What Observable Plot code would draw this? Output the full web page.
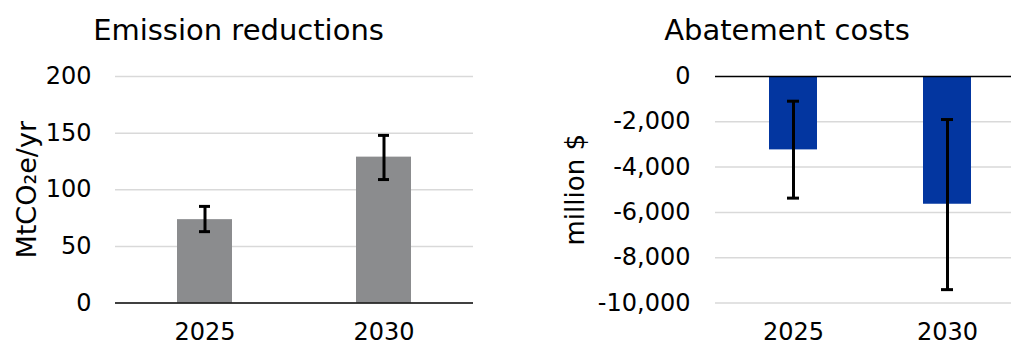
<!DOCTYPE html>
<html><head><meta charset="utf-8">
<script src="https://cdn.jsdelivr.net/npm/d3@7"></script>
<script src="https://cdn.jsdelivr.net/npm/@observablehq/plot@0.6"></script>
<style>
html,body{margin:0;padding:0;background:#fff;}
#wrap{position:relative;width:1011px;height:345px;overflow:hidden;}
#wrap > svg{position:absolute;top:0;}
</style></head><body><div id="wrap"></div>
<script>
const years = ["2025", "2030"];
const emissionValues = [73.6, 128.8];
const emissionLow = [63, 109];
const emissionHigh = [85.3, 148];
const costValues = [-3240, -5640];
const costLow = [-5370, -9410];
const costHigh = [-1090, -1900];
const emissionTicks = [0, 50, 100, 150, 200];
const costTicks = [0, -2000, -4000, -6000, -8000, -10000];
const titles = ["Emission reductions", "Abatement costs"];
const yLabels = ["MtCO\u2082e/yr", "million $"];

const emData = years.map((y, i) => ({year: y, value: emissionValues[i], low: emissionLow[i], high: emissionHigh[i]}));
const costData = years.map((y, i) => ({year: y, value: costValues[i], low: costLow[i], high: costHigh[i]}));

const font = "'DejaVu Sans', Verdana, sans-serif";
const wrap = document.getElementById("wrap");

const left = Plot.plot({
  width: 490, height: 345,
  marginLeft: 115, marginRight: 17, marginTop: 76, marginBottom: 42.5,
  style: {fontFamily: font, fontSize: "24px", color: "#000", background: "transparent", overflow: "visible"},
  x: {domain: years, paddingInner: 0.69, paddingOuter: 0.345, label: null},
  y: {domain: [0, 200], label: null},
  marks: [
    Plot.ruleY(emissionTicks.filter(t => t !== 0), {stroke: "#d9d9d9", strokeWidth: 1.5}),
    Plot.barY(emData, {x: "year", y: "value", fill: "#8b8c8e"}),
    Plot.ruleY([0], {stroke: "#000", strokeWidth: 1.5}),
    Plot.ruleX(emData, {x: "year", y1: "low", y2: "high", stroke: "#000", strokeWidth: 3}),
    Plot.tickY(emData, {x: "year", y: "low", stroke: "#000", strokeWidth: 3, insetLeft: 22, insetRight: 22}),
    Plot.tickY(emData, {x: "year", y: "high", stroke: "#000", strokeWidth: 3, insetLeft: 22, insetRight: 22}),
    Plot.axisY({ticks: emissionTicks, tickSize: 0, tickPadding: 24, label: null}),
    Plot.axisX({tickSize: 0, tickPadding: 20, label: null}),
    Plot.text([titles[0]], {text: d => d, frameAnchor: "top", textAnchor: "middle", lineAnchor: "middle", dx: -56, dy: -45.5, fontSize: 29}),
    Plot.text([yLabels[0]], {text: d => d, frameAnchor: "left", textAnchor: "middle", lineAnchor: "middle", rotate: -90, dx: -88, fontSize: 27})
  ]
});
left.style.left = "0px";
wrap.appendChild(left);

const right = Plot.plot({
  width: 521, height: 345,
  marginLeft: 225, marginRight: 0, marginTop: 76, marginBottom: 42.5,
  style: {fontFamily: font, fontSize: "24px", color: "#000", background: "transparent", overflow: "visible"},
  x: {domain: years, range: [225, 534], paddingInner: 0.69, paddingOuter: 0.345, label: null},
  y: {domain: [-10000, 0], label: null},
  marks: [
    Plot.ruleY(costTicks.filter(t => t !== 0), {stroke: "#d9d9d9", strokeWidth: 1.5}),
    Plot.barY(costData, {x: "year", y: "value", fill: "#0336a0"}),
    Plot.ruleY([0], {stroke: "#000", strokeWidth: 1.5}),
    Plot.ruleX(costData, {x: "year", y1: "low", y2: "high", stroke: "#000", strokeWidth: 3}),
    Plot.tickY(costData, {x: "year", y: "low", stroke: "#000", strokeWidth: 3, insetLeft: 18, insetRight: 18}),
    Plot.tickY(costData, {x: "year", y: "high", stroke: "#000", strokeWidth: 3, insetLeft: 18, insetRight: 18}),
    Plot.axisY({ticks: costTicks, tickSize: 0, tickPadding: 25, tickFormat: d => d.toLocaleString("en-US"), label: null}),
    Plot.axisX({tickSize: 0, tickPadding: 20, label: null}),
    Plot.text([titles[1]], {text: d => d, frameAnchor: "top", textAnchor: "middle", lineAnchor: "middle", dx: -76.5, dy: -45.5, fontSize: 29}),
    Plot.text([yLabels[1]], {text: d => d, frameAnchor: "left", textAnchor: "middle", lineAnchor: "middle", rotate: -90, dx: -140, fontSize: 26})
  ]
});
right.style.left = "490px";
wrap.appendChild(right);
</script></body></html>
